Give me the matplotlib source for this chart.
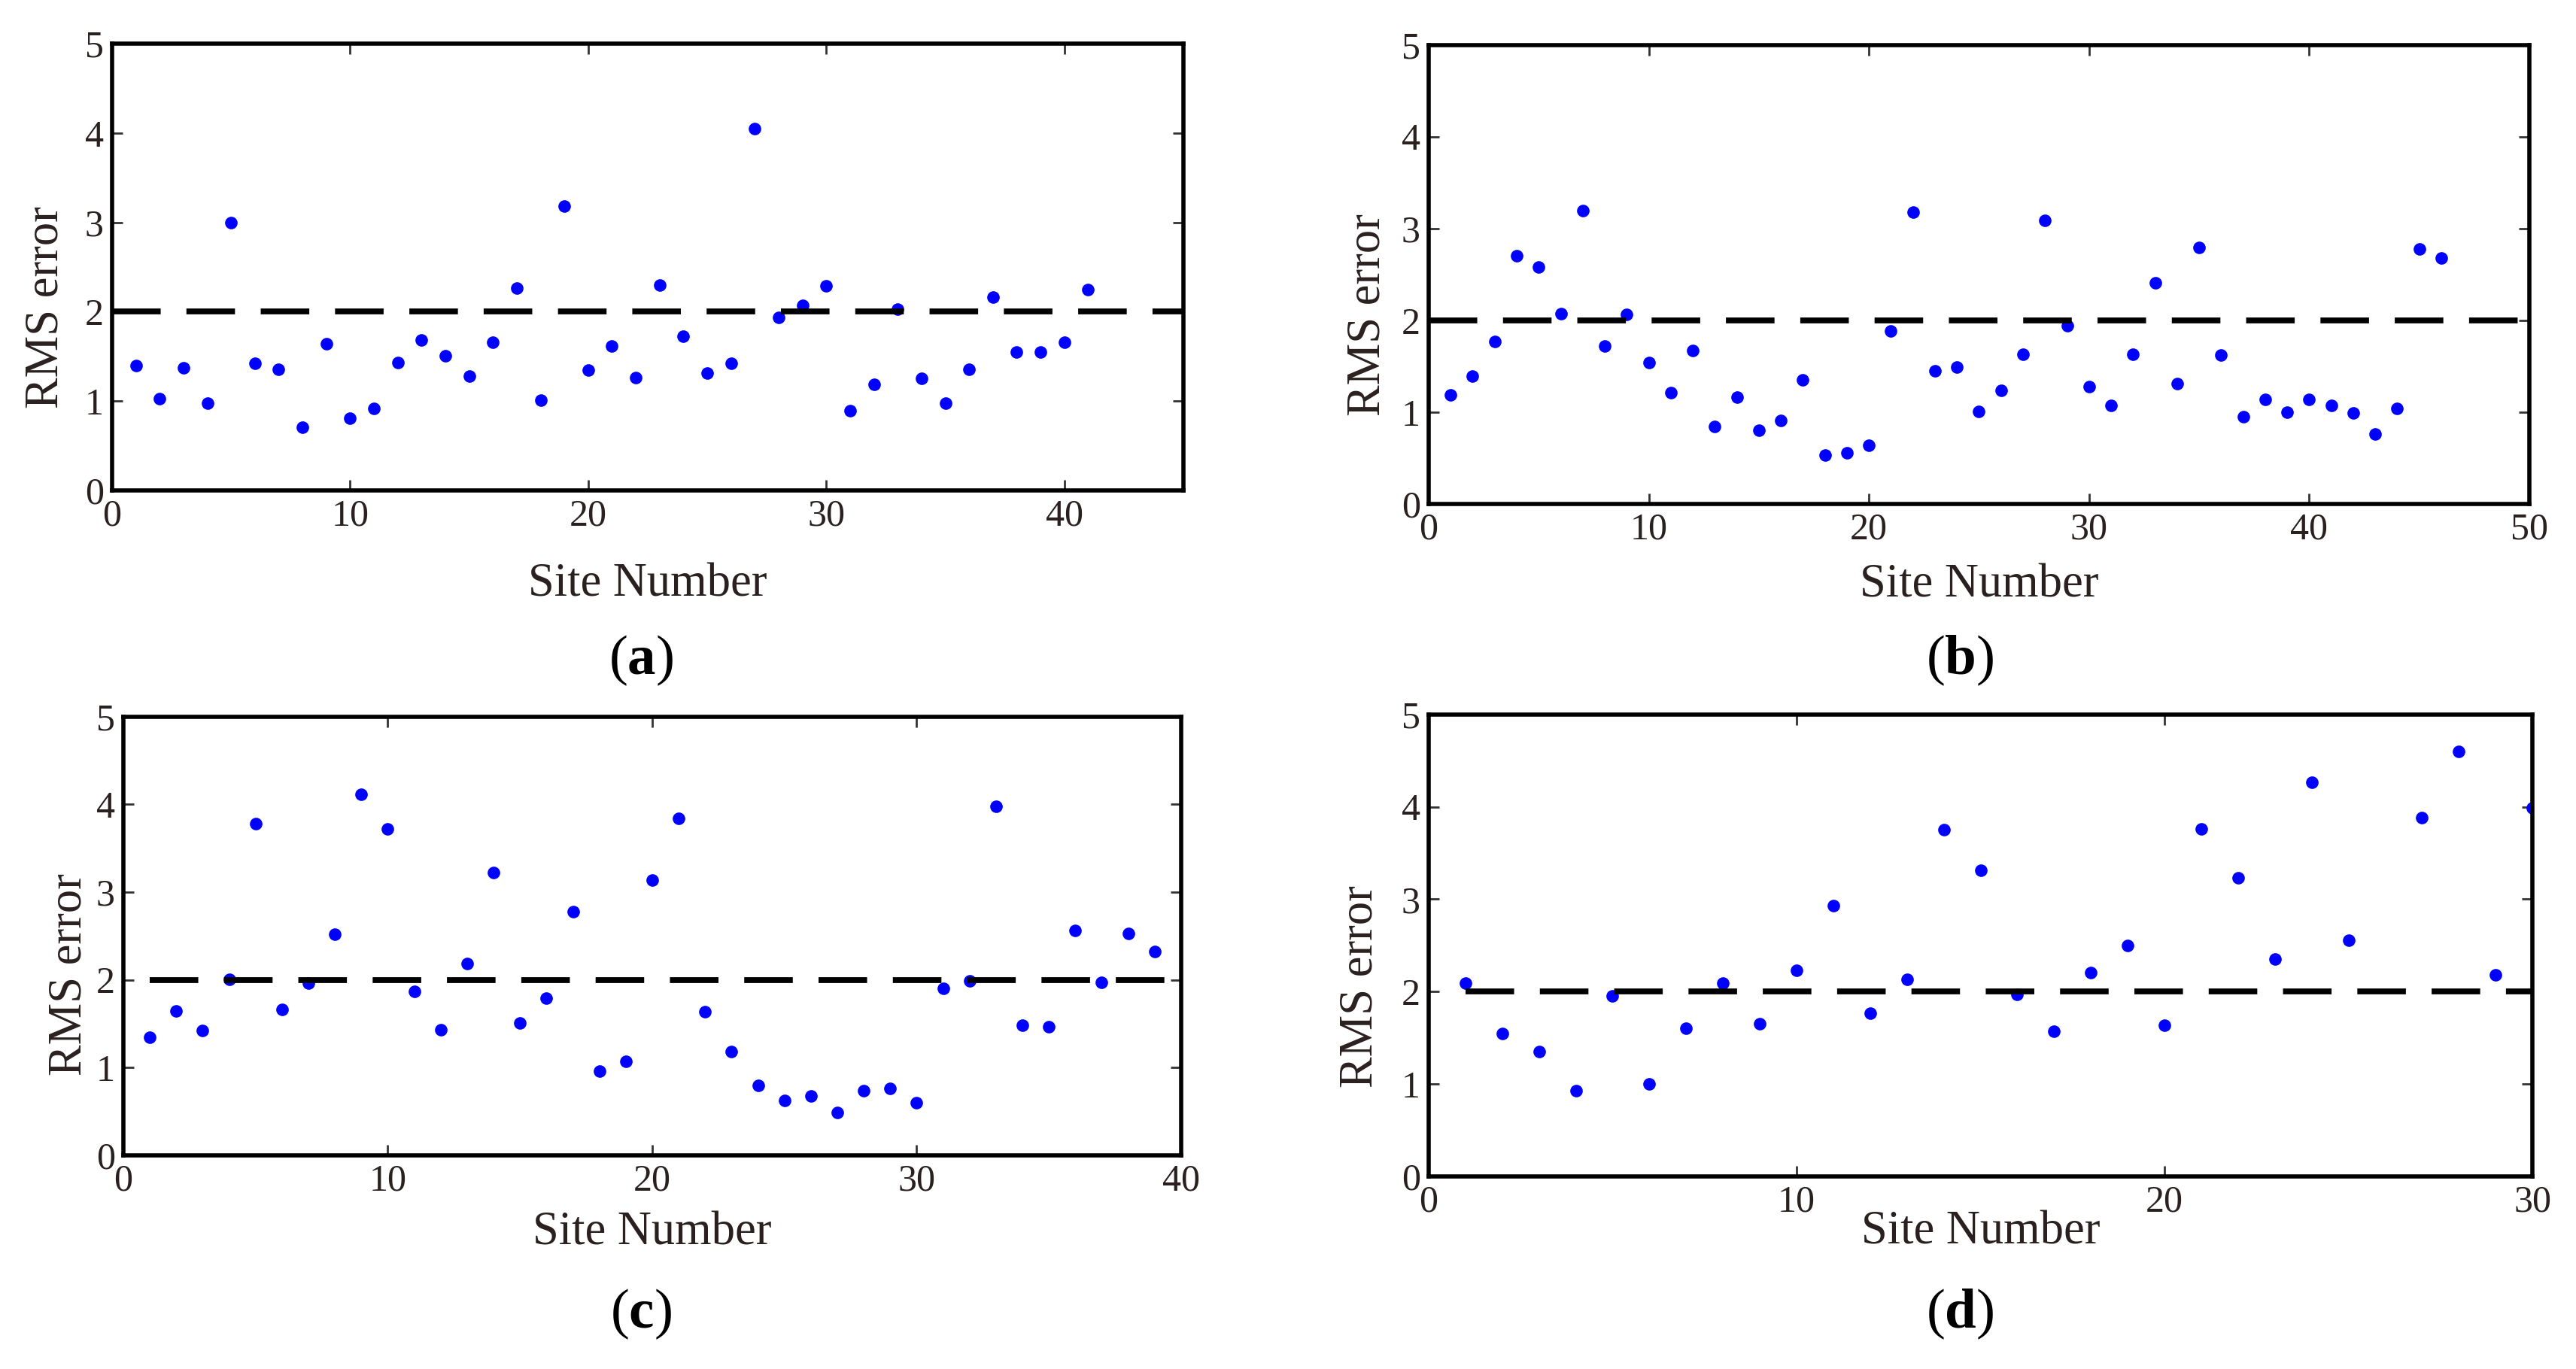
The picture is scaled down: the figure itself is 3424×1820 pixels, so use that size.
import matplotlib
matplotlib.use("Agg")
import matplotlib.pyplot as plt
import numpy as np

plt.rcParams['font.family'] = ['Liberation Serif', 'DejaVu Serif']
plt.rcParams['mathtext.fontset'] = 'custom'
plt.rcParams['mathtext.rm'] = 'Liberation Serif'
plt.rcParams['mathtext.bf'] = 'Liberation Serif:bold'

# ---------------- data ----------------
sites_a = list(range(1, 42))
rms_a = [1.40, 1.03, 1.37, 0.98, 3.00, 1.42, 1.355, 0.705, 1.64, 0.81,
         0.92, 1.43, 1.68, 1.51, 1.28, 1.66, 2.26, 1.01, 3.18, 1.35,
         1.62, 1.26, 2.30, 1.725, 1.31, 1.425, 4.05, 1.94, 2.07, 2.29,
         0.89, 1.19, 2.025, 1.25, 0.98, 1.355, 2.16, 1.55, 1.55, 1.655, 2.245]

sites_b = list(range(1, 47))
rms_b = [1.19, 1.39, 1.77, 2.70, 2.58, 2.07, 3.19, 1.72, 2.06, 1.54,
         1.21, 1.67, 0.84, 1.165, 0.80, 0.91, 1.35, 0.53, 0.56, 0.64,
         1.88, 3.18, 1.45, 1.49, 1.01, 1.24, 1.63, 3.09, 1.94, 1.28,
         1.07, 1.63, 2.41, 1.31, 2.79, 1.62, 0.95, 1.14, 1.00, 1.135,
         1.07, 0.99, 0.76, 1.04, 2.78, 2.68]

sites_c = list(range(1, 40))
rms_c = [1.35, 1.65, 1.42, 2.01, 3.78, 1.66, 1.96, 2.52, 4.11, 3.72,
         1.87, 1.43, 2.19, 3.22, 1.51, 1.79, 2.78, 0.96, 1.07, 3.14,
         3.84, 1.64, 1.18, 0.80, 0.63, 0.68, 0.49, 0.74, 0.76, 0.60,
         1.90, 1.985, 3.98, 1.48, 1.465, 2.56, 1.97, 2.53, 2.32]

sites_d = list(range(1, 26)) + [27, 28, 29, 30]
rms_d = [2.09, 1.55, 1.35, 0.93, 1.95, 1.00, 1.60, 2.09, 1.65, 2.23,
         2.93, 1.77, 2.13, 3.75, 3.31, 1.97, 1.57, 2.21, 2.50, 1.64,
         3.76, 3.23, 2.35, 4.27, 2.56,
         3.88, 4.60, 2.18, 3.99]

threshold = 2.0
panel_labels = ['a', 'b', 'c', 'd']
x_limits = [45, 50, 40, 30]
x_ticks = [[0, 10, 20, 30, 40], [0, 10, 20, 30, 40, 50],
           [0, 10, 20, 30, 40], [0, 10, 20, 30]]
y_ticks = [0, 1, 2, 3, 4, 5]
x_label = "Site Number"
y_label = "RMS error"

# ---------------- layout ----------------
W, H = 3424, 1820
DPI = 200
fig = plt.figure(figsize=(W / DPI, H / DPI), dpi=DPI)

rects = [
    [0.0435, 0.6418, 0.4159, 0.3263],
    [0.5546, 0.6319, 0.4273, 0.3354],
    [0.0479, 0.1560, 0.4106, 0.3206],
    [0.5546, 0.1407, 0.4285, 0.3374],
]
xlabel_y = [-0.163, -0.131, -0.127, -0.075]
ylabel_xy = [(-0.041, 0.41), (-0.0355, 0.411), (-0.030, 0.413), (-0.0416, 0.411)]
tag_pos = [(852 / W, 1 - 878 / H), (2605 / W, 1 - 878 / H),
           (852 / W, 1 - 1747 / H), (2605 / W, 1 - 1747 / H)]
line_start = ['axis', 'axis', 'site', 'site']

text_color = '#2a2020'
datasets = [(sites_a, rms_a), (sites_b, rms_b), (sites_c, rms_c), (sites_d, rms_d)]

for i, (sites, rms) in enumerate(datasets):
    ax = fig.add_axes(rects[i])
    ax.plot(sites, rms, 'o', color='#0000ff', ms=6.0, mew=0, zorder=2)
    xmax = x_limits[i]
    x0 = 0 if line_start[i] == 'axis' else sites[0]
    ax.plot([x0, xmax], [threshold, threshold], color='black', lw=2.8,
            linestyle=(0, (8.3, 4.4)), dash_capstyle='butt', zorder=3)
    ax.set_xlim(0, xmax)
    ax.set_ylim(0, 5)
    ax.set_xticks(x_ticks[i])
    ax.set_yticks(y_ticks)
    ax.tick_params(direction='in', top=True, right=True, length=5, width=1.0,
                   color='#333333', labelsize=18, labelcolor=text_color, pad=4)
    for sp in ax.spines.values():
        sp.set_linewidth(2.0)
        sp.set_color('black')
    ax.set_xlabel(x_label, fontsize=22.5, color=text_color)
    ax.set_ylabel(y_label, fontsize=22.5, color=text_color)
    ax.xaxis.set_label_coords(0.5, xlabel_y[i])
    ax.yaxis.set_label_coords(*ylabel_xy[i])
    fig.text(tag_pos[i][0], tag_pos[i][1], r'($\mathbf{%s}$)' % panel_labels[i],
             fontsize=27, ha='center', va='center', color='black')

fig.savefig('out.png', dpi=DPI)
